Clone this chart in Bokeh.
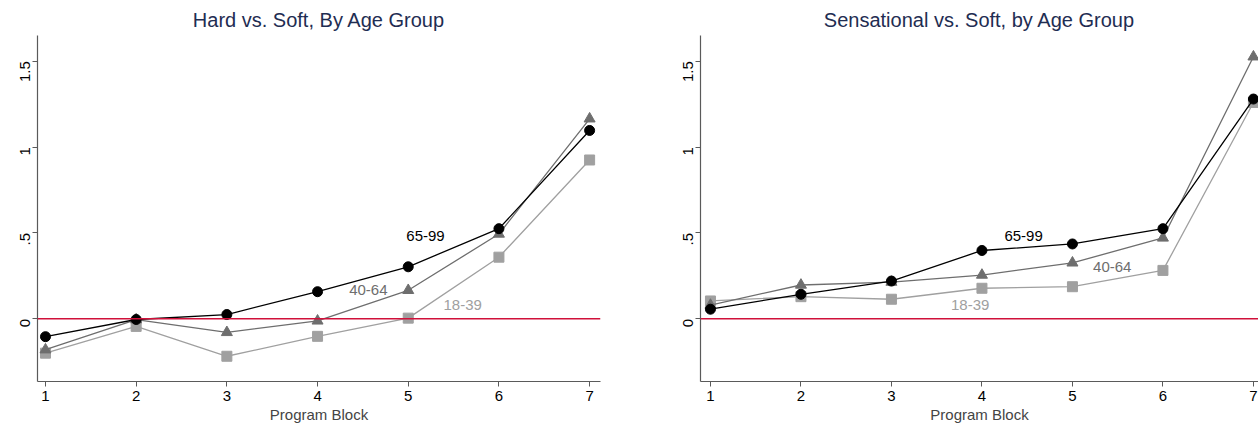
import math
from bokeh.plotting import figure
from bokeh.layouts import row
from bokeh.models import Span, Range1d, FixedTicker, CustomJSTickFormatter
from bokeh.core.properties import value
from bokeh.embed import file_html
from bokeh.resources import INLINE

blocks = [1, 2, 3, 4, 5, 6, 7]

# Hard vs. Soft
hard_6599 = [-0.104, -0.004, 0.025, 0.158, 0.303, 0.525, 1.097]
hard_4064 = [-0.18, -0.005, -0.079, -0.012, 0.166, 0.494, 1.165]
hard_1839 = [-0.20, -0.044, -0.218, -0.102, 0.004, 0.359, 0.925]

# Sensational vs. Soft
sens_6599 = [0.056, 0.143, 0.22, 0.398, 0.436, 0.525, 1.28]
sens_4064 = [0.08, 0.197, 0.214, 0.255, 0.326, 0.471, 1.526]
sens_1839 = [0.104, 0.129, 0.114, 0.178, 0.187, 0.282, 1.26]

groups = ["65-99", "40-64", "18-39"]
colors = ["#000000", "#6e6e6e", "#a0a0a0"]
markers = ["circle", "triangle", "square"]
msizes = [10, 11, 10]

# label positions (x, y) per group
hard_label_pos = [(5.19, 0.48), (4.56, 0.168), (5.6, 0.08)]
sens_label_pos = [(4.46, 0.48), (5.44, 0.30), (3.87, 0.08)]

FONT = "Liberation Sans"


def make_panel(title, series, label_pos, width, bl, br, xstart, xend):
    p = figure(width=width, height=425, output_backend="svg", toolbar_location=None,
               x_range=Range1d(xstart, xend), y_range=Range1d(-0.365, 1.65),
               min_border_left=bl, min_border_right=br, min_border_top=35,
               min_border_bottom=42)
    p.title.text = title
    p.title.align = "center"
    p.title.text_font = FONT
    p.title.text_font_size = "20px"
    p.title.text_font_style = "normal"
    p.title.text_color = "#1f2d52"
    p.title.standoff = 10
    p.outline_line_color = None
    p.xgrid.visible = False
    p.ygrid.visible = False
    p.background_fill_color = "white"
    p.border_fill_color = "white"

    p.xaxis.ticker = FixedTicker(ticks=blocks)
    p.yaxis.ticker = FixedTicker(ticks=[0, 0.5, 1, 1.5])
    p.yaxis.formatter = CustomJSTickFormatter(code="""
        var s = (Math.round(tick*10)/10).toString();
        return s.replace(/^0\\./, '.');
    """)
    p.yaxis.major_label_orientation = math.pi / 2
    p.xaxis.axis_label = "Program Block"
    for ax in (p.xaxis, p.yaxis):
        ax.axis_line_color = "#5a5a5a"
        ax.axis_line_width = 1.2
        ax.major_tick_line_color = "#5a5a5a"
        ax.major_tick_out = 5
        ax.major_tick_in = 0
        ax.minor_tick_line_color = None
        ax.major_label_text_font = FONT
        ax.major_label_text_font_size = "15px"
        ax.major_label_text_color = "#000000"
        ax.axis_label_text_font = FONT
        ax.axis_label_text_font_size = "15px"
        ax.axis_label_text_font_style = "normal"
    p.xaxis.major_label_standoff = 4
    p.xaxis.axis_label_standoff = 2
    p.yaxis.major_label_standoff = 7

    p.add_layout(Span(location=0, dimension="width", line_color="#d0103a", line_width=1.5))

    for vals, col, mk, ms in reversed(list(zip(series, colors, markers, msizes))):
        p.line(blocks, vals, line_color=col, line_width=1.3)
        p.scatter(blocks, vals, marker=mk, size=ms, fill_color=col, line_color=col)

    for g, col, (lx, ly) in zip(groups, colors, label_pos):
        p.text(x=[lx], y=[ly], text=[g], text_color=col, text_align="center",
               text_baseline="middle", text_font=value(FONT), text_font_size="15px")
    return p


p1 = make_panel("Hard vs. Soft, By Age Group", [hard_6599, hard_4064, hard_1839],
                hard_label_pos, 630, 37, 30, 0.912, 7.12)
p2 = make_panel("Sensational vs. Soft, by Age Group", [sens_6599, sens_4064, sens_1839],
                sens_label_pos, 628, 70, 0, 0.89, 7.056)

layout = row(p1, p2)
open("out.html", "w").write(file_html(layout, INLINE))
